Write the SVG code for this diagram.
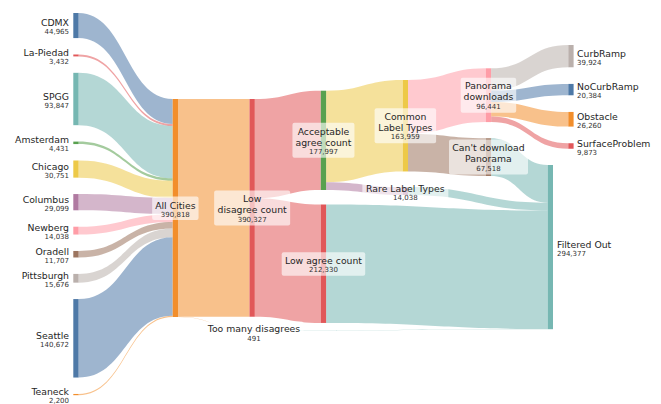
<svg xmlns="http://www.w3.org/2000/svg" width="661" height="404" viewBox="0 0 661 404">
<style>
text{font-family:"DejaVu Sans","Liberation Sans",sans-serif;fill:#262626}
.n{font-size:9.3px}
.v{font-size:7px;fill:#333}
.l{text-anchor:end}
.r{text-anchor:start}
.m{text-anchor:middle}
.box{fill:#fff;fill-opacity:0.62}
#links path{fill-opacity:0.55;stroke:none}
.blue{fill:#4e79a7}.red{fill:#e15759}.teal{fill:#76b7b2}.green{fill:#59a14f}.yellow{fill:#edc948}.purple{fill:#b07aa1}.pink{fill:#ff9da7}.brown{fill:#9c755f}.gray{fill:#bab0ac}.orange{fill:#f28e2b}
</style>
<rect width="661" height="404" fill="#fff"/>
<g id="links">
<path class="blue" d="M78.6 13 C125.65 13 125.65 99 172.7 99 L172.7 124.08 C125.65 124.08 125.65 38.08 78.6 38.08Z"/>
<path class="red" d="M78.6 54.5 C125.65 54.5 125.65 124.08 172.7 124.08 L172.7 125.99 C125.65 125.99 125.65 56.41 78.6 56.41Z"/>
<path class="teal" d="M78.6 72.83 C125.65 72.83 125.65 125.99 172.7 125.99 L172.7 178.34 C125.65 178.34 125.65 125.18 78.6 125.18Z"/>
<path class="green" d="M78.6 141.6 C125.65 141.6 125.65 178.34 172.7 178.34 L172.7 180.81 C125.65 180.81 125.65 144.07 78.6 144.07Z"/>
<path class="yellow" d="M78.6 160.49 C125.65 160.49 125.65 180.81 172.7 180.81 L172.7 197.96 C125.65 197.96 125.65 177.64 78.6 177.64Z"/>
<path class="purple" d="M78.6 194.06 C125.65 194.06 125.65 197.96 172.7 197.96 L172.7 214.19 C125.65 214.19 125.65 210.29 78.6 210.29Z"/>
<path class="pink" d="M78.6 226.71 C125.65 226.71 125.65 214.19 172.7 214.19 L172.7 222.02 C125.65 222.02 125.65 234.54 78.6 234.54Z"/>
<path class="brown" d="M78.6 250.96 C125.65 250.96 125.65 222.02 172.7 222.02 L172.7 228.55 C125.65 228.55 125.65 257.49 78.6 257.49Z"/>
<path class="gray" d="M78.6 273.91 C125.65 273.91 125.65 228.55 172.7 228.55 L172.7 237.29 C125.65 237.29 125.65 282.65 78.6 282.65Z"/>
<path class="blue" d="M78.6 299.07 C125.65 299.07 125.65 237.29 172.7 237.29 L172.7 315.76 C125.65 315.76 125.65 377.54 78.6 377.54Z"/>
<path class="orange" d="M78.6 393.96 C125.65 393.96 125.65 315.76 172.7 315.76 L172.7 316.99 C125.65 316.99 125.65 395.19 78.6 395.19Z"/>
<path class="orange" d="M178 99 L249.5 99 L249.5 316.73 L178 316.73Z"/>
<path class="orange" d="M178 316.73 C213.75 316.73 213.75 330.8 249.5 330.8 L249.5 331.07 C213.75 331.07 213.75 317 178 317Z"/>
<path class="red" d="M254.8 99 C287.8 99 287.8 90.7 320.8 90.7 L320.8 189.99 C287.8 189.99 287.8 198.29 254.8 198.29Z"/>
<path class="red" d="M254.8 198.29 C287.8 198.29 287.8 204.5 320.8 204.5 L320.8 322.94 C287.8 322.94 287.8 316.73 254.8 316.73Z"/>
<path class="yellow" d="M326.1 90.7 C364.4 90.7 364.4 80 402.7 80 L402.7 171.46 C364.4 171.46 364.4 182.16 326.1 182.16Z"/>
<path class="purple" d="M326.1 182.16 C364.4 182.16 364.4 187.1 402.7 187.1 L402.7 194.93 C364.4 194.93 364.4 189.99 326.1 189.99Z"/>
<path class="pink" d="M408 80 C446.9 80 446.9 68.3 485.8 68.3 L485.8 122.1 C446.9 122.1 446.9 133.8 408 133.8Z"/>
<path class="brown" d="M408 133.8 C446.9 133.8 446.9 138.3 485.8 138.3 L485.8 175.96 C446.9 175.96 446.9 171.46 408 171.46Z"/>
<path class="gray" d="M491.1 68.3 C529.7 68.3 529.7 45 568.3 45 L568.3 67.27 C529.7 67.27 529.7 90.57 491.1 90.57Z"/>
<path class="blue" d="M491.1 90.57 C529.7 90.57 529.7 83.92 568.3 83.92 L568.3 95.29 C529.7 95.29 529.7 101.94 491.1 101.94Z"/>
<path class="orange" d="M491.1 101.94 C529.7 101.94 529.7 111.94 568.3 111.94 L568.3 126.59 C529.7 126.59 529.7 116.59 491.1 116.59Z"/>
<path class="red" d="M491.1 116.59 C529.7 116.59 529.7 143.24 568.3 143.24 L568.3 148.75 C529.7 148.75 529.7 122.1 491.1 122.1Z"/>
<path class="teal" d="M491.1 138.3 C519.4 138.3 519.4 165 547.7 165 L547.7 202.66 C519.4 202.66 519.4 175.96 491.1 175.96Z"/>
<path class="teal" d="M408 187.1 C477.85 187.1 477.85 202.66 547.7 202.66 L547.7 210.49 C477.85 210.49 477.85 194.93 408 194.93Z"/>
<path class="teal" d="M326.1 204.5 C436.9 204.5 436.9 210.49 547.7 210.49 L547.7 328.93 C436.9 328.93 436.9 322.94 326.1 322.94Z"/>
<path class="teal" d="M254.8 330.8 C401.25 330.8 401.25 328.93 547.7 328.93 L547.7 329.2 C401.25 329.2 401.25 331.07 254.8 331.07Z"/>
</g>
<g id="node-cdmx"><rect class="blue" x="73.3" y="13" width="5.3" height="25.08"/><text class="n l" x="69" y="26">CDMX</text><text class="v l" x="69" y="34.1">44,965</text></g>
<g id="node-lapiedad"><rect class="red" x="73.3" y="54.5" width="5.3" height="1.91"/><text class="n l" x="69" y="56">La-Piedad</text><text class="v l" x="69" y="64.1">3,432</text></g>
<g id="node-spgg"><rect class="teal" x="73.3" y="72.83" width="5.3" height="52.35"/><text class="n l" x="69" y="99.5">SPGG</text><text class="v l" x="69" y="107.6">93,847</text></g>
<g id="node-amsterdam"><rect class="green" x="73.3" y="141.6" width="5.3" height="2.47"/><text class="n l" x="69" y="143.3">Amsterdam</text><text class="v l" x="69" y="151.4">4,431</text></g>
<g id="node-chicago"><rect class="yellow" x="73.3" y="160.49" width="5.3" height="17.15"/><text class="n l" x="69" y="169.6">Chicago</text><text class="v l" x="69" y="177.7">30,751</text></g>
<g id="node-columbus"><rect class="purple" x="73.3" y="194.06" width="5.3" height="16.23"/><text class="n l" x="69" y="202.7">Columbus</text><text class="v l" x="69" y="210.8">29,099</text></g>
<g id="node-newberg"><rect class="pink" x="73.3" y="226.71" width="5.3" height="7.83"/><text class="n l" x="69" y="231.1">Newberg</text><text class="v l" x="69" y="239.2">14,038</text></g>
<g id="node-oradell"><rect class="brown" x="73.3" y="250.96" width="5.3" height="6.53"/><text class="n l" x="69" y="254.7">Oradell</text><text class="v l" x="69" y="262.8">11,707</text></g>
<g id="node-pittsburgh"><rect class="gray" x="73.3" y="273.91" width="5.3" height="8.74"/><text class="n l" x="69" y="278.8">Pittsburgh</text><text class="v l" x="69" y="286.9">15,676</text></g>
<g id="node-seattle"><rect class="blue" x="73.3" y="299.07" width="5.3" height="78.47"/><text class="n l" x="69" y="338.8">Seattle</text><text class="v l" x="69" y="346.9">140,672</text></g>
<g id="node-teaneck"><rect class="orange" x="73.3" y="393.96" width="5.3" height="1.23"/><text class="n l" x="69" y="395.1">Teaneck</text><text class="v l" x="69" y="403.2">2,200</text></g>
<g id="node-allcities"><rect class="orange" x="172.7" y="99" width="5.3" height="218"/><rect class="box" x="152.15" y="196.5" width="46.4" height="23.5" rx="2"/><text class="n m" x="175.35" y="208.5">All Cities</text><text class="v m" x="175.35" y="216.6">390,818</text></g>
<g id="node-lowdisagree"><rect class="red" x="249.5" y="99" width="5.3" height="217.73"/><rect class="box" x="214.15" y="190.4" width="76" height="35" rx="2"/><text class="n m" x="252.15" y="202.1">Low</text><text class="n m" x="252.15" y="213.1">disagree count</text><text class="v m" x="252.15" y="221.5">390,327</text></g>
<g id="node-toomany"><rect class="orange" x="249.5" y="330.8" width="5.3" height="0.27"/><rect class="box" x="205" y="321.5" width="98.5" height="23" rx="2"/><text class="n m" x="254" y="332">Too many disagrees</text><text class="v m" x="254" y="340.6">491</text></g>
<g id="node-acceptable"><rect class="green" x="320.8" y="90.7" width="5.3" height="99.29"/><rect class="box" x="292.45" y="122.85" width="62" height="35" rx="2"/><text class="n m" x="323.45" y="134.6">Acceptable</text><text class="n m" x="323.45" y="145.6">agree count</text><text class="v m" x="323.45" y="154">177,997</text></g>
<g id="node-lowagree"><rect class="red" x="320.8" y="204.5" width="5.3" height="118.44"/><rect class="box" x="281.7" y="252.2" width="83.5" height="23.5" rx="2"/><text class="n m" x="323.45" y="264.2">Low agree count</text><text class="v m" x="323.45" y="272.3">212,330</text></g>
<g id="node-common"><rect class="yellow" x="402.7" y="80" width="5.3" height="91.46"/><rect class="box" x="374.6" y="108.2" width="61.5" height="35" rx="2"/><text class="n m" x="405.35" y="119.9">Common</text><text class="n m" x="405.35" y="130.9">Label Types</text><text class="v m" x="405.35" y="139.3">163,959</text></g>
<g id="node-rare"><rect class="purple" x="402.7" y="187.1" width="5.3" height="7.83"/><rect class="box" x="362.35" y="179.5" width="86" height="23.5" rx="2"/><text class="n m" x="405.35" y="191.5">Rare Label Types</text><text class="v m" x="405.35" y="199.6">14,038</text></g>
<g id="node-panorama"><rect class="pink" x="485.8" y="68.3" width="5.3" height="53.8"/><rect class="box" x="460.7" y="77.7" width="55.5" height="35" rx="2"/><text class="n m" x="488.45" y="89.4">Panorama</text><text class="n m" x="488.45" y="100.4">downloads</text><text class="v m" x="488.45" y="108.8">96,441</text></g>
<g id="node-cantdownload"><rect class="brown" x="485.8" y="138.3" width="5.3" height="37.66"/><rect class="box" x="449" y="139.6" width="79" height="35" rx="2"/><text class="n m" x="488.45" y="151.3">Can't download</text><text class="n m" x="488.45" y="162.3">Panorama</text><text class="v m" x="488.45" y="170.7">67,518</text></g>
<g id="node-filtered"><rect class="teal" x="547.7" y="165" width="5.3" height="164.2"/><text class="n r" x="557" y="247.6">Filtered Out</text><text class="v r" x="557" y="255.7">294,377</text></g>
<g id="node-curbramp"><rect class="gray" x="568.3" y="45" width="5.3" height="22.27"/><text class="n r" x="577" y="56.6">CurbRamp</text><text class="v r" x="577" y="64.7">39,924</text></g>
<g id="node-nocurbramp"><rect class="blue" x="568.3" y="83.92" width="5.3" height="11.37"/><text class="n r" x="577" y="90.1">NoCurbRamp</text><text class="v r" x="577" y="98.2">20,384</text></g>
<g id="node-obstacle"><rect class="orange" x="568.3" y="111.94" width="5.3" height="14.65"/><text class="n r" x="577" y="119.8">Obstacle</text><text class="v r" x="577" y="127.9">26,260</text></g>
<g id="node-surface"><rect class="red" x="568.3" y="143.24" width="5.3" height="5.51"/><text class="n r" x="577" y="146.5">SurfaceProblem</text><text class="v r" x="577" y="154.6">9,873</text></g>
</svg>
